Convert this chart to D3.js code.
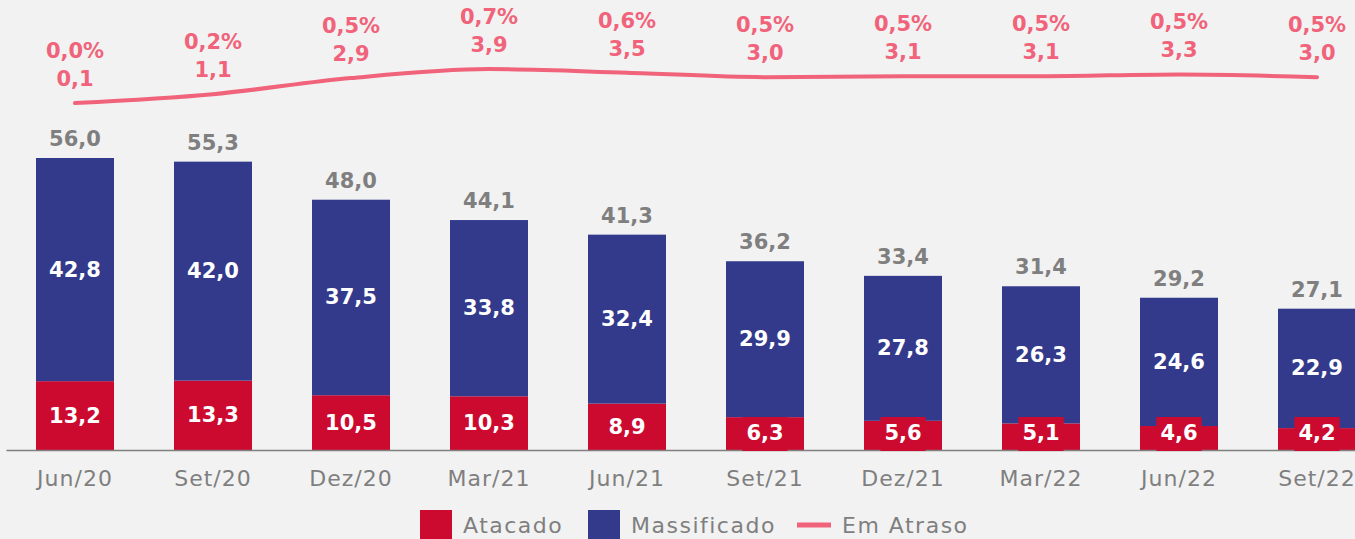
<!DOCTYPE html>
<html>
<head>
<meta charset="utf-8">
<script src="https://cdn.jsdelivr.net/npm/d3@7"></script>
<style>
  body { margin: 0; background: #f2f2f2; }
  svg { display: block; font-family: "DejaVu Sans", sans-serif; }
</style>
</head>
<body>
<div id="chart"></div>
<script>
// data
const categories = ['Jun/20', 'Set/20', 'Dez/20', 'Mar/21', 'Jun/21', 'Set/21', 'Dez/21', 'Mar/22', 'Jun/22', 'Set/22'];
const atacado = [13.2, 13.3, 10.5, 10.3, 8.9, 6.3, 5.6, 5.1, 4.6, 4.2];
const massificado = [42.8, 42.0, 37.5, 33.8, 32.4, 29.9, 27.8, 26.3, 24.6, 22.9];
const emAtraso = [0.1, 1.1, 2.9, 3.9, 3.5, 3.0, 3.1, 3.1, 3.3, 3.0];
const emAtrasoPct = [0.0, 0.2, 0.5, 0.7, 0.6, 0.5, 0.5, 0.5, 0.5, 0.5];

const width = 1355, height = 539;
const red = '#cc0a30', blue = '#333a8c', pink = '#f0637a', gray = '#7f7f7f';
const fmt = v => v.toFixed(1).replace('.', ',');

const rows = categories.map((c, i) => ({
  cat: c, atacado: atacado[i], massificado: massificado[i],
  total: atacado[i] + massificado[i], atraso: emAtraso[i], pct: emAtrasoPct[i]
}));

const svg = d3.select('#chart').append('svg')
  .attr('width', width)
  .attr('height', height);

svg.append('rect').attr('width', width).attr('height', height).attr('fill', '#f2f2f2');

const x = d3.scaleBand()
  .domain(categories)
  .range([6, 1386])
  .paddingInner(0.4348)
  .paddingOuter(0.2174);

const y = d3.scaleLinear().domain([0, 56]).range([450, 158]);
const yLine = d3.scaleLinear().domain([0, 4]).range([104, 68.2]);

// stacked bars
const stack = d3.stack().keys(['atacado', 'massificado'])(rows);
const colors = {atacado: red, massificado: blue};

svg.append('g').selectAll('g')
  .data(stack)
  .join('g')
  .attr('fill', d => colors[d.key])
  .selectAll('rect')
  .data(d => d)
  .join('rect')
  .attr('x', d => x(d.data.cat))
  .attr('y', d => y(d[1]))
  .attr('width', x.bandwidth())
  .attr('height', d => y(d[0]) - y(d[1]));

// axis
const xAxis = svg.append('g')
  .attr('transform', 'translate(0,450)')
  .call(d3.axisBottom(x).tickSize(0).tickSizeOuter(0).tickPadding(20));
xAxis.select('.domain').attr('stroke', gray).attr('stroke-width', 1.5);
xAxis.selectAll('text')
  .attr('fill', gray)
  .style('font-family', '"DejaVu Sans", sans-serif')
  .style('font-size', '22px')
  .style('letter-spacing', '1px');

// labels in massificado segments
svg.append('g').selectAll('text')
  .data(rows)
  .join('text')
  .attr('x', d => x(d.cat) + x.bandwidth() / 2)
  .attr('y', d => (y(d.atacado) + y(d.total)) / 2)
  .attr('text-anchor', 'middle')
  .attr('dominant-baseline', 'central')
  .attr('fill', '#fff')
  .attr('font-weight', 'bold')
  .attr('font-size', 21)
  .text(d => fmt(d.massificado));

// labels in atacado segments, with red background box
const redLab = svg.append('g').selectAll('g')
  .data(rows)
  .join('g')
  .attr('transform', d => `translate(${x(d.cat) + x.bandwidth() / 2},${Math.min((y(0) + y(d.atacado)) / 2, 433)})`);
redLab.append('rect');
redLab.append('text')
  .attr('text-anchor', 'middle')
  .attr('dominant-baseline', 'central')
  .attr('fill', '#fff')
  .attr('font-weight', 'bold')
  .attr('font-size', 21)
  .text(d => fmt(d.atacado));
redLab.each(function() {
  const g = d3.select(this);
  const b = g.select('text').node().getBBox();
  g.select('rect')
    .attr('x', b.x - 4).attr('width', b.width + 8)
    .attr('y', -16).attr('height', 34)
    .attr('fill', red);
});

// totals
svg.append('g').selectAll('text')
  .data(rows)
  .join('text')
  .attr('x', d => x(d.cat) + x.bandwidth() / 2)
  .attr('y', d => y(d.total) - 12)
  .attr('text-anchor', 'middle')
  .attr('fill', gray)
  .attr('font-weight', 'bold')
  .attr('font-size', 21)
  .text(d => fmt(d.total));

// em atraso line
const line = d3.line()
  .x(d => x(d.cat) + x.bandwidth() / 2)
  .y(d => yLine(d.atraso))
  .curve(d3.curveMonotoneX);

svg.append('path')
  .datum(rows)
  .attr('d', line)
  .attr('fill', 'none')
  .attr('stroke', pink)
  .attr('stroke-width', 4)
  .attr('stroke-linecap', 'round');

const lineLab = svg.append('g').selectAll('g')
  .data(rows)
  .join('g')
  .attr('transform', d => `translate(${x(d.cat) + x.bandwidth() / 2},${yLine(d.atraso)})`)
  .attr('text-anchor', 'middle')
  .attr('dominant-baseline', 'central')
  .attr('fill', pink)
  .attr('font-weight', 'bold')
  .attr('font-size', 21);
lineLab.append('text').attr('y', -52).attr('dominant-baseline', 'central').text(d => fmt(d.pct) + '%');
lineLab.append('text').attr('y', -24).attr('dominant-baseline', 'central').text(d => fmt(d.atraso));

// legend
const legend = svg.append('g').attr('transform', 'translate(0,525)')
  .style('font-size', '22px').style('letter-spacing', '1.5px').attr('fill', gray);
legend.append('rect').attr('x', 420).attr('y', -15).attr('width', 32).attr('height', 32).attr('fill', red);
legend.append('text').attr('x', 463).attr('y', 8).text('Atacado');
legend.append('rect').attr('x', 588).attr('y', -15).attr('width', 32).attr('height', 32).attr('fill', blue);
legend.append('text').attr('x', 631).attr('y', 8).text('Massificado');
legend.append('line').attr('x1', 797).attr('x2', 831).attr('y1', 0).attr('y2', 0)
  .attr('stroke', pink).attr('stroke-width', 5);
legend.append('text').attr('x', 842).attr('y', 8).text('Em Atraso');
</script>
</body>
</html>
